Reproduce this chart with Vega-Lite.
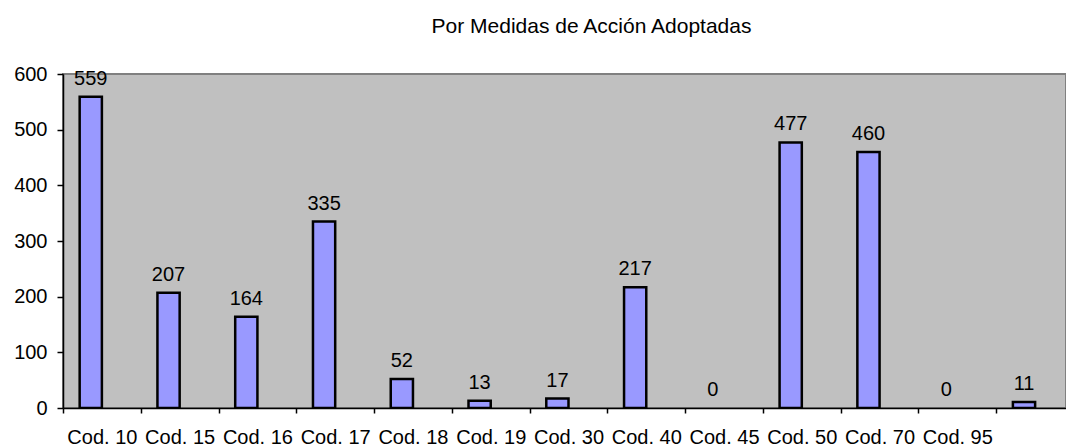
{
  "$schema": "https://vega.github.io/schema/vega-lite/v6.json",
  "width": 1003,
  "height": 334,
  "autosize": {"type": "none"},
  "padding": {"left": 63, "top": 74, "right": 0, "bottom": 38},
  "background": "white",
  "title": {
    "text": "Por Medidas de Acción Adoptadas",
    "font": "Liberation Sans",
    "fontSize": 21,
    "fontWeight": "normal",
    "color": "black",
    "anchor": "middle",
    "dx": 27,
    "offset": 10,
    "baseline": "alphabetic"
  },
  "config": {
    "view": {"fill": "#C0C0C0", "stroke": "#808080", "strokeWidth": 2},
    "axis": {
      "labelFont": "Liberation Sans",
      "labelFontSize": 20,
      "labelColor": "black",
      "domainColor": "black",
      "domainWidth": 1.5,
      "tickColor": "black",
      "tickWidth": 1.5,
      "grid": false,
      "title": null
    }
  },
  "data": {
    "values": [
      {"codigo": "Cod. 10", "serie": "Casos", "valor": 559},
      {"codigo": "Cod. 15", "serie": "Casos", "valor": 207},
      {"codigo": "Cod. 16", "serie": "Casos", "valor": 164},
      {"codigo": "Cod. 17", "serie": "Casos", "valor": 335},
      {"codigo": "Cod. 18", "serie": "Casos", "valor": 52},
      {"codigo": "Cod. 19", "serie": "Casos", "valor": 13},
      {"codigo": "Cod. 30", "serie": "Casos", "valor": 17},
      {"codigo": "Cod. 40", "serie": "Casos", "valor": 217},
      {"codigo": "Cod. 45", "serie": "Casos", "valor": 0},
      {"codigo": "Cod. 50", "serie": "Casos", "valor": 477},
      {"codigo": "Cod. 70", "serie": "Casos", "valor": 460},
      {"codigo": "Cod. 95", "serie": "Casos", "valor": 0},
      {"codigo": "", "serie": "Casos", "valor": 11}
    ]
  },
  "encoding": {
    "x": {
      "field": "codigo",
      "type": "nominal",
      "sort": null,
      "scale": {
        "domain": ["Cod. 10", "Cod. 15", "Cod. 16", "Cod. 17", "Cod. 18", "Cod. 19", "Cod. 30", "Cod. 40", "Cod. 45", "Cod. 50", "Cod. 70", "Cod. 95", ""],
        "range": [0, 1011],
        "paddingInner": 0,
        "paddingOuter": 0
      },
      "axis": {"labelAngle": 0, "labelPadding": 14, "tickSize": 5, "tickBand": "extent"}
    },
    "xOffset": {
      "field": "serie",
      "type": "nominal",
      "scale": {"domain": ["Casos", "Vacía"], "paddingInner": 0, "paddingOuter": 0.75}
    },
    "y": {
      "field": "valor",
      "type": "quantitative",
      "scale": {"domain": [0, 600], "nice": false},
      "axis": {"values": [0, 100, 200, 300, 400, 500, 600], "tickSize": 6, "labelPadding": 10}
    }
  },
  "layer": [
    {
      "transform": [{"filter": "datum.valor > 0"}],
      "mark": {"type": "bar", "fill": "#9999FF", "stroke": "black", "strokeWidth": 2.5, "clip": true}
    },
    {
      "mark": {"type": "text", "font": "Liberation Sans", "fontSize": 20, "baseline": "alphabetic", "dy": -12, "color": "black"},
      "encoding": {"text": {"field": "valor", "type": "quantitative"}}
    }
  ]
}
